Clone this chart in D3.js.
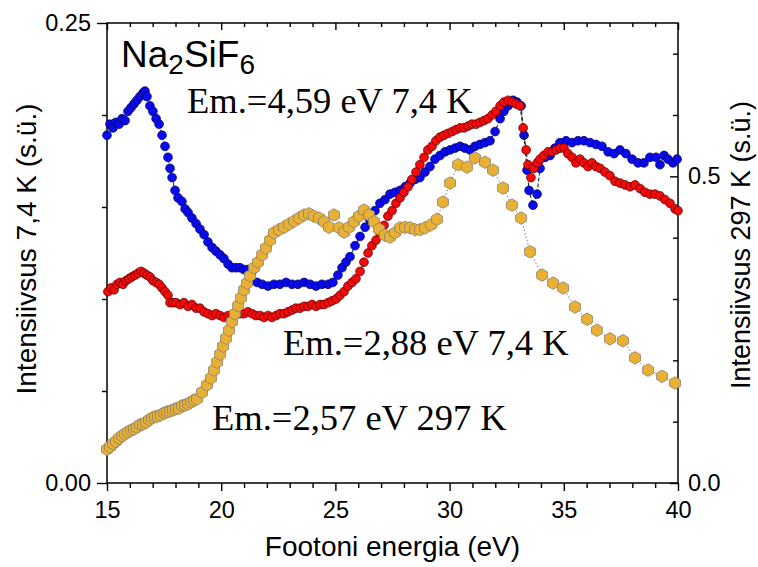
<!DOCTYPE html>
<html>
<head>
<meta charset="utf-8">
<script src="https://cdn.jsdelivr.net/npm/d3@7"></script>
<style>
  html, body { margin: 0; padding: 0; background: #fff; }
  svg { display: block; }
</style>
</head>
<body>
<svg id="chart" width="758" height="567"></svg>
<script>
// ---------- DATA ----------
const blueE = [15.0,15.13,15.26,15.39,15.53,15.66,15.79,15.92,16.05,16.18,16.31,16.44,16.58,16.66,16.75,16.88,17.01,17.15,17.28,17.41,17.54,17.67,17.76,17.85,17.98,18.11,18.28,18.42,18.55,18.72,18.90,19.07,19.25,19.42,19.60,19.77,19.95,20.12,20.30,20.47,20.65,20.82,21.00,21.17,21.35,
  21.57,21.79,22.05,22.31,22.57,22.84,23.10,23.36,23.63,23.89,24.15,24.41,24.68,24.89,25.11,25.29,25.46,25.64,25.86,26.08,26.30,26.51,26.73,26.95,27.17,27.39,27.61,27.83,28.05,28.27,28.49,28.70,28.92,29.14,29.36,29.58,29.80,30.02,30.24,30.46,30.67,30.89,31.11,31.33,31.55,31.77,31.99,32.21,32.38,32.56,32.78,32.95,33.13,33.26,33.39,33.48,33.65,33.83,33.96,34.18,34.40,34.61,34.83,35.10,35.36,35.62,35.88,36.15,36.41,36.67,36.94,37.20,37.46,37.72,37.99,38.25,38.51,38.77,39.04,39.21,39.39,39.56,39.78,39.96];
const blueI = [0.189,0.195,0.193,0.196,0.195,0.198,0.197,0.202,0.204,0.206,0.208,0.210,0.212,0.213,0.210,0.205,0.202,0.198,0.195,0.189,0.183,0.177,0.171,0.166,0.159,0.155,0.153,0.149,0.147,0.144,0.141,0.138,0.135,0.131,0.128,0.126,0.124,0.122,0.119,0.117,0.117,0.117,0.116,0.116,0.115,
  0.109,0.108,0.107,0.108,0.108,0.109,0.108,0.108,0.109,0.108,0.107,0.108,0.108,0.109,0.113,0.117,0.120,0.123,0.129,0.134,0.139,0.143,0.148,0.152,0.154,0.157,0.158,0.159,0.161,0.163,0.165,0.166,0.169,0.172,0.176,0.178,0.180,0.181,0.182,0.183,0.182,0.181,0.183,0.184,0.185,0.186,0.191,0.198,0.202,0.205,0.208,0.207,0.205,0.189,0.170,0.159,0.151,0.157,0.171,0.177,0.178,0.182,0.185,0.186,0.185,0.186,0.186,0.185,0.184,0.183,0.180,0.179,0.181,0.179,0.176,0.174,0.174,0.177,0.177,0.173,0.178,0.176,0.174,0.176];

const redE = [15.04,15.18,15.31,15.44,15.57,15.70,15.83,15.96,16.09,16.23,16.36,16.49,16.62,16.75,16.88,17.01,17.15,17.28,17.41,17.54,17.67,17.76,17.89,18.02,18.20,18.37,18.55,18.72,18.90,19.07,19.25,19.42,19.60,19.77,19.95,20.12,20.30,20.47,20.65,20.82,21.00,21.17,21.35,21.52,21.70,21.87,22.05,22.22,22.40,22.57,22.75,22.92,23.10,23.27,23.45,23.63,23.80,23.98,24.15,24.33,24.50,24.68,24.85,25.03,25.20,25.38,25.55,25.73,25.90,26.08,26.25,26.43,26.60,26.78,26.95,27.13,27.30,27.48,27.65,27.83,28.00,28.18,28.35,28.53,28.70,28.88,29.05,29.23,29.40,29.58,29.75,29.93,30.11,30.28,30.46,30.63,30.81,30.98,31.16,31.33,31.51,31.68,31.86,32.03,32.21,32.38,32.56,32.73,32.91,33.08,33.22,33.35,33.43,33.56,33.69,33.83,33.96,34.13,34.31,34.48,34.66,34.83,35.01,35.18,35.36,35.53,35.71,35.88,36.06,36.23,36.41,36.59,36.80,37.02,37.24,37.46,37.68,37.90,38.12,38.34,38.55,38.77,38.99,39.21,39.43,39.65,39.87,40.0];
const redI = [0.104,0.106,0.105,0.108,0.109,0.108,0.110,0.111,0.112,0.113,0.114,0.115,0.114,0.113,0.112,0.110,0.109,0.108,0.106,0.104,0.102,0.098,0.098,0.098,0.097,0.098,0.096,0.097,0.095,0.095,0.093,0.092,0.091,0.092,0.091,0.090,0.091,0.090,0.092,0.092,0.092,0.093,0.092,0.091,0.091,0.090,0.091,0.090,0.091,0.092,0.092,0.093,0.094,0.095,0.095,0.096,0.096,0.097,0.096,0.097,0.097,0.098,0.099,0.100,0.102,0.104,0.107,0.109,0.111,0.115,0.120,0.125,0.129,0.132,0.136,0.140,0.145,0.148,0.152,0.155,0.158,0.161,0.165,0.169,0.173,0.177,0.181,0.183,0.186,0.188,0.189,0.190,0.191,0.192,0.193,0.193,0.194,0.195,0.195,0.196,0.197,0.198,0.200,0.202,0.205,0.207,0.208,0.207,0.206,0.205,0.193,0.181,0.173,0.166,0.171,0.174,0.176,0.178,0.180,0.180,0.181,0.182,0.182,0.179,0.177,0.174,0.176,0.174,0.172,0.174,0.172,0.171,0.169,0.167,0.164,0.163,0.162,0.161,0.162,0.160,0.158,0.157,0.157,0.156,0.154,0.152,0.149,0.148];

const goldE = [15.0,15.13,15.26,15.39,15.53,15.66,15.79,15.92,16.05,16.18,16.31,16.44,16.58,16.71,16.84,16.97,17.10,17.23,17.36,17.50,17.63,17.76,17.89,18.02,18.15,18.28,18.42,18.55,18.68,18.81,18.94,19.16,19.38,19.55,19.68,19.82,19.95,20.08,20.21,20.34,20.47,20.60,20.74,20.87,21.00,21.13,21.26,21.44,21.61,21.79,21.96,22.14,22.31,22.53,22.75,22.97,23.19,23.41,23.63,23.84,24.06,24.28,24.50,24.72,24.94,25.16,25.38,25.60,25.81,26.03,26.25,26.47,26.69,26.91,27.17,27.39,27.61,27.83,28.05,28.27,28.49,28.70,28.92,29.19,29.45,29.71,30.02,30.37,30.76,31.11,31.55,31.90,32.34,32.73,33.13,33.52,34.05,34.53,34.97,35.49,36.02,36.45,37.02,37.59,38.12,38.69,39.30,39.87];
const goldI = [0.055,0.059,0.064,0.068,0.073,0.077,0.080,0.083,0.086,0.088,0.091,0.095,0.096,0.099,0.103,0.106,0.108,0.109,0.111,0.114,0.116,0.117,0.119,0.121,0.122,0.126,0.127,0.129,0.132,0.135,0.137,0.148,0.160,0.171,0.184,0.197,0.210,0.223,0.236,0.249,0.263,0.276,0.289,0.302,0.315,0.326,0.338,0.351,0.360,0.372,0.383,0.396,0.408,0.413,0.417,0.422,0.427,0.432,0.437,0.439,0.435,0.432,0.426,0.417,0.437,0.416,0.409,0.417,0.426,0.435,0.445,0.437,0.426,0.414,0.404,0.401,0.408,0.416,0.417,0.416,0.413,0.413,0.416,0.421,0.430,0.458,0.489,0.519,0.515,0.530,0.523,0.510,0.481,0.453,0.432,0.377,0.339,0.326,0.318,0.287,0.267,0.249,0.235,0.232,0.204,0.184,0.174,0.163];

const xMajorTicks = [15, 20, 25, 30, 35, 40];
const leftTickLabels = ["0.00", "0.25"];
const leftMajor = [0, 0.25];
const leftMinor = [0.05, 0.10, 0.15, 0.20];
const rightTickLabels = ["0.0", "0.5"];
const rightMajor = [0, 0.5];
const rightMinor = [0.1, 0.2, 0.3, 0.4, 0.6, 0.7];

const labels = {
  x: "Footoni energia (eV)",
  yLeft: "Intensiivsus 7,4 K (s.ü.)",
  yRight: "Intensiivsus 297 K (s.ü.)",
  blue: "Em.=4,59 eV 7,4 K",
  red: "Em.=2,88 eV 7,4 K",
  gold: "Em.=2,57 eV 297 K"
};

// ---------- LAYOUT ----------
const L = 107, R = 678, T = 23, B = 483;
const svg = d3.select("#chart");
const x = d3.scaleLinear().domain([15, 40]).range([L, R]);
const yL = d3.scaleLinear().domain([0, 0.25]).range([B, T]);
const yR = d3.scaleLinear().domain([0, 0.75]).range([B, T]);

const tickFont = "'Liberation Sans', Arial, sans-serif";

function styleAxis(g, showText) {
  g.select(".domain").remove();
  g.selectAll(".tick line").attr("stroke", "#000").attr("stroke-width", 1.4);
  g.selectAll(".tick text").attr("font-family", tickFont).attr("font-size", 23.5).attr("fill", "#000");
  if (!showText) g.selectAll(".tick text").remove();
}

const xMinor = d3.range(15, 41, 1).filter(v => v % 5 !== 0);

// bottom
svg.append("g").attr("transform", `translate(0,${B})`)
  .call(d3.axisBottom(x).tickValues(xMajorTicks).tickSize(8).tickPadding(10).tickFormat(d3.format("d")))
  .call(g => styleAxis(g, true));
svg.append("g").attr("transform", `translate(0,${B})`)
  .call(d3.axisBottom(x).tickValues(xMinor).tickSize(5).tickFormat(""))
  .call(g => styleAxis(g, false));
// top (inward)
svg.append("g").attr("transform", `translate(0,${T})`)
  .call(d3.axisBottom(x).tickValues(xMajorTicks).tickSize(7).tickFormat(""))
  .call(g => styleAxis(g, false));
svg.append("g").attr("transform", `translate(0,${T})`)
  .call(d3.axisBottom(x).tickValues(xMinor).tickSize(4).tickFormat(""))
  .call(g => styleAxis(g, false));
// left (outward)
svg.append("g").attr("transform", `translate(${L},0)`)
  .call(d3.axisLeft(yL).tickValues(leftMajor).tickSize(10).tickPadding(6).tickFormat((d, i) => leftTickLabels[i]))
  .call(g => styleAxis(g, true));
svg.append("g").attr("transform", `translate(${L},0)`)
  .call(d3.axisLeft(yL).tickValues(leftMinor).tickSize(5).tickFormat(""))
  .call(g => styleAxis(g, false));
// right (inward ticks, labels outside)
svg.append("g").attr("transform", `translate(${R},0)`)
  .call(d3.axisRight(yR).tickValues(rightMajor).tickSizeInner(-8).tickSizeOuter(0).tickPadding(10).tickFormat((d, i) => rightTickLabels[i]))
  .call(g => styleAxis(g, true));
svg.append("g").attr("transform", `translate(${R},0)`)
  .call(d3.axisRight(yR).tickValues(rightMinor).tickSizeInner(-5).tickSizeOuter(0).tickFormat(""))
  .call(g => styleAxis(g, false));

// frame
svg.append("rect").attr("x", L).attr("y", T).attr("width", R - L).attr("height", B - T)
  .attr("fill", "none").attr("stroke", "#000").attr("stroke-width", 1.5);

// ---------- SERIES ----------
const blue = blueE.map((e, i) => [e, blueI[i]]);
const red = redE.map((e, i) => [e, redI[i]]);
const gold = goldE.map((e, i) => [e, goldI[i]]);

const lineL = d3.line().x(d => x(d[0])).y(d => yL(d[1]));
const lineR = d3.line().x(d => x(d[0])).y(d => yR(d[1]));

const plot = svg.append("g");

function drawCircles(data, fill, stroke) {
  plot.append("path").datum(data).attr("d", lineL).attr("fill", "none")
    .attr("stroke", "#111").attr("stroke-width", 1).attr("stroke-dasharray", "4,2");
  plot.append("g").selectAll("circle").data(data).join("circle")
    .attr("cx", d => x(d[0])).attr("cy", d => yL(d[1])).attr("r", 4.4)
    .attr("fill", fill).attr("stroke", stroke).attr("stroke-width", 0.7);
}
drawCircles(blue, "#0a0af0", "#00004a");
drawCircles(red, "#f50a0a", "#4a0000");

plot.append("path").datum(gold).attr("d", lineR).attr("fill", "none")
  .attr("stroke", "#777").attr("stroke-width", 1).attr("stroke-dasharray", "1.5,2");
const hexR = 6.3;
const hex = d3.symbol().type({
  draw(ctx, size) {
    const r = Math.sqrt(size / (1.5 * Math.sqrt(3)));
    for (let k = 0; k < 6; k++) {
      const a = Math.PI / 3 * k - Math.PI / 2;
      const px = r * Math.cos(a), py = r * Math.sin(a);
      if (k === 0) ctx.moveTo(px, py); else ctx.lineTo(px, py);
    }
    ctx.closePath();
  }
}).size(1.5 * Math.sqrt(3) * hexR * hexR);
plot.append("g").selectAll("path").data(gold).join("path")
  .attr("transform", d => `translate(${x(d[0])},${yR(d[1])})`)
  .attr("d", hex).attr("fill", "#e8b035").attr("stroke", "#8a8070").attr("stroke-width", 0.8);

// ---------- TEXT ----------
const serif = "'Liberation Serif', 'Times New Roman', serif";
svg.append("text").attr("x", 187).attr("y", 113).attr("font-family", serif).attr("font-size", 36.5).text(labels.blue);
svg.append("text").attr("x", 283).attr("y", 355).attr("font-family", serif).attr("font-size", 36.5).text(labels.red);
svg.append("text").attr("x", 212).attr("y", 430).attr("font-family", serif).attr("font-size", 36.5).text(labels.gold);

const na = svg.append("text").attr("x", 121).attr("y", 67).attr("font-family", tickFont).attr("font-size", 37);
na.append("tspan").text("Na");
na.append("tspan").attr("font-size", 28).attr("dy", 7).text("2");
na.append("tspan").attr("dy", -7).text("SiF");
na.append("tspan").attr("font-size", 28).attr("dy", 7).text("6");

svg.append("text").attr("x", (L + R) / 2).attr("y", 556).attr("text-anchor", "middle")
  .attr("font-family", tickFont).attr("font-size", 28).text(labels.x);
svg.append("text").attr("transform", `translate(36,${(T + B) / 2 - 4}) rotate(-90)`).attr("text-anchor", "middle")
  .attr("font-family", tickFont).attr("font-size", 28).text(labels.yLeft);
svg.append("text").attr("transform", `translate(750,${(T + B) / 2 - 8}) rotate(-90)`).attr("text-anchor", "middle")
  .attr("font-family", tickFont).attr("font-size", 27).text(labels.yRight);
</script>
</body>
</html>
